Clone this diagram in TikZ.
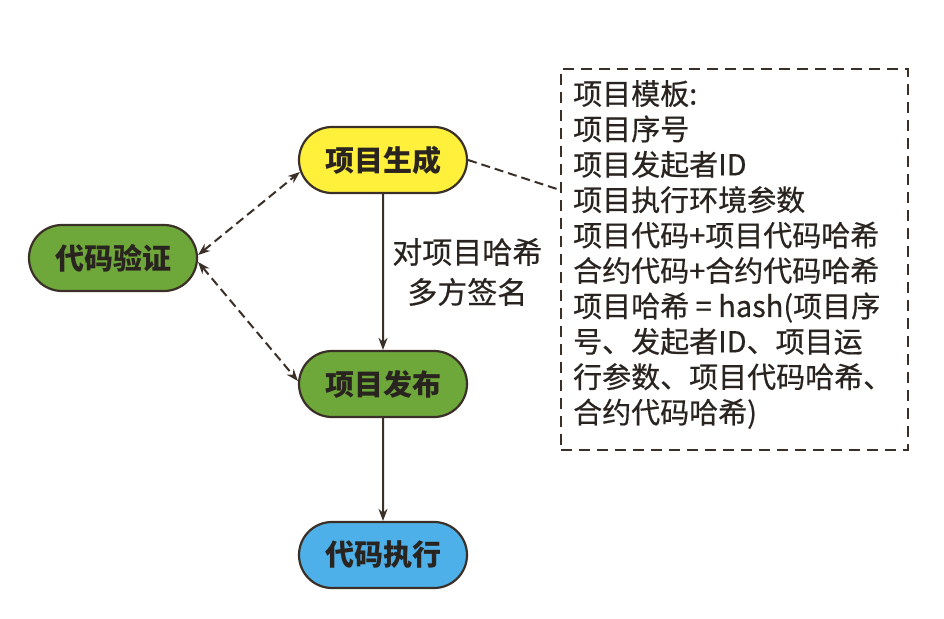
\documentclass[tikz,border=0pt]{standalone}
\usepackage{fontspec}
\setmainfont{Noto Sans CJK SC}
\newfontfamily\boxfont{Noto Sans CJK SC}[FakeBold=0.5]
\usetikzlibrary{arrows.meta,shapes.misc}
\definecolor{nyellow}{HTML}{FFF03C}
\definecolor{ngreen}{HTML}{6FA83A}
\definecolor{nblue}{HTML}{4DB0E8}
\definecolor{edge}{HTML}{3A3028}
\definecolor{txt}{HTML}{2A2420}
\tikzset{
  proc/.style={rounded rectangle, draw=edge, line width=2.2pt, minimum width=168pt, minimum height=66pt, inner sep=0pt, font=\fontsize{29}{32}\selectfont\bfseries, text=txt},
  solidarrow/.style={draw=edge, line width=2pt, -{Stealth[length=12pt,width=9pt]}},
  dasharrow/.style={draw=edge, line width=2pt, dash pattern=on 9pt off 5pt, {Stealth[length=12pt,width=9pt]}-{Stealth[length=12pt,width=9pt]}},
  dashline/.style={draw=edge, line width=2pt, dash pattern=on 9pt off 5pt},
}
\begin{document}
\begin{tikzpicture}[x=1pt,y=-1pt]
\useasboundingbox (0,0) rectangle (944,618);
\fill[white] (0,0) rectangle (944,618);
\node[proc, fill=nyellow] (gen) at (383,160) {项目生成};
\node[proc, fill=ngreen] (ver) at (113,258) {代码验证};
\node[proc, fill=ngreen] (pub) at (383,384) {项目发布};
\node[proc, fill=nblue] (exe) at (383,555) {代码执行};
\node[draw=edge, line width=2.2pt, dash pattern=on 11pt off 7pt, minimum width=347pt, minimum height=381pt, anchor=north west, inner sep=0pt] (tpl) at (560,68) {};
\node[anchor=north west, align=left, inner sep=0pt, font=\boxfont\fontsize{29}{35.4}\selectfont, text=txt] (tpltext) at (573,80) {项目模板:\\项目序号\\项目发起者ID\\项目执行环境参数\\项目代码+项目代码哈希\\合约代码+合约代码哈希\\项目哈希 = hash(项目序\\号、发起者ID、项目运\\行参数、项目代码哈希、\\合约代码哈希)};
\coordinate (tplin) at (560,190);
\draw[solidarrow] (gen) -- (pub) node[midway, right=5pt, align=center, font=\boxfont\fontsize{30}{40}\selectfont, text=txt] (lbl) {对项目哈希\\多方签名};
\draw[solidarrow] (pub) -- (exe);
\draw[dashline] (gen.east) -- (tplin);
\draw[dasharrow] ([yshift=3pt]ver.east) -- ([yshift=-12pt,xshift=2pt]gen.west);
\draw[dasharrow] ([yshift=-4pt]ver.east) -- ([yshift=3pt]pub.west);
\end{tikzpicture}
\end{document}
